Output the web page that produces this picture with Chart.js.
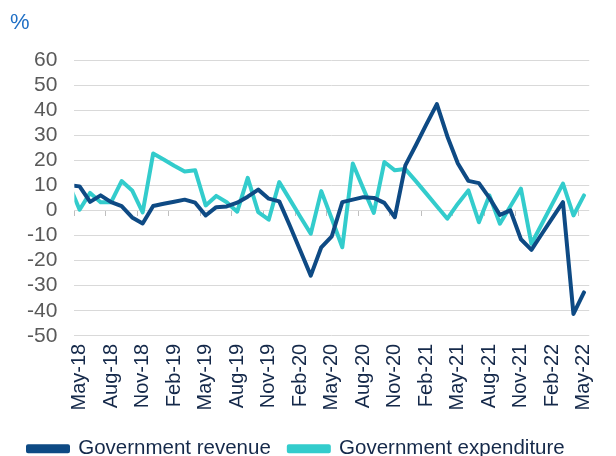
<!DOCTYPE html>
<html>
<head>
<meta charset="utf-8">
<script src="https://cdn.jsdelivr.net/npm/chart.js@4.4.1/dist/chart.umd.min.js"></script>
<style>
  html, body { margin: 0; padding: 0; background: #ffffff; }
  #wrap { width: 616px; height: 456px; position: relative; }
</style>
</head>
<body>
<div id="wrap"><canvas id="c"></canvas></div>
<script>
// Month labels (Apr-18 is only visible as the clipped line stub at the left edge)
const months = ['Apr-18',
  'May-18','Jun-18','Jul-18','Aug-18','Sep-18','Oct-18','Nov-18','Dec-18',
  'Jan-19','Feb-19','Mar-19','Apr-19','May-19','Jun-19','Jul-19','Aug-19','Sep-19','Oct-19','Nov-19','Dec-19',
  'Jan-20','Feb-20','Mar-20','Apr-20','May-20','Jun-20','Jul-20','Aug-20','Sep-20','Oct-20','Nov-20','Dec-20',
  'Jan-21','Feb-21','Mar-21','Apr-21','May-21','Jun-21','Jul-21','Aug-21','Sep-21','Oct-21','Nov-21','Dec-21',
  'Jan-22','Feb-22','Mar-22','Apr-22','May-22'];

const revenue = [10,
  9.6, 3.4, 6, 3.3, 1.7, -2.8, -5.2, 1.8,
  2.7, 3.5, 4.3, 3.1, -2, 1.3, 1.6, 3.1, 5.5, 8.3, 4.7, 3.6,
  -6, -16, -26, -14.7, -10.3, 3.3, 4.3, 5.3, 5, 3, -2.7, 18,
  26, 34.3, 42.4, 29.5, 18.7, 11.8, 10.9, 5, -1.8, 0, -11.5, -15.7,
  -9.3, -3, 3.3, -41.3, -32.7];

const expenditure = [10.3,
  0.3, 7, 3.3, 3.3, 11.7, 8, -0.8, 22.7,
  20.3, 17.8, 15.5, 16, 2, 5.8, 3.3, -0.5, 13, -0.7, -3.7, 11.3,
  4.4, -2.5, -9.3, 7.7, -3.3, -14.7, 18.7, 8.7, -1, 19.3, 16, 16.5,
  11.7, 6.7, 1.7, -3.3, 2.7, 8, -4.7, 6, -5.3, 1.7, 8.7, -13.3,
  -5.3, 2.7, 10.7, -2, 6];

const seriesNames = ['Government revenue', 'Government expenditure'];
const firstShown = 'May-18';

const navy = '#0e4a84';
const teal = '#33cccc';
const gridColor = '#d9d9d9';
const font = "'Liberation Sans', Arial, sans-serif";

new Chart(document.getElementById('c'), {
  type: 'line',
  data: {
    labels: months,
    datasets: [
      { label: seriesNames[0], data: revenue, borderColor: navy, backgroundColor: navy,
        borderWidth: 4, pointRadius: 0, tension: 0, borderCapStyle: 'round', borderJoinStyle: 'round' },
      { label: seriesNames[1], data: expenditure, borderColor: teal, backgroundColor: teal,
        borderWidth: 4, pointRadius: 0, tension: 0, borderCapStyle: 'round', borderJoinStyle: 'round' }
    ]
  },
  options: {
    responsive: true,
    maintainAspectRatio: false,
    animation: false,
    layout: { padding: { left: 10, right: 3, top: 0, bottom: -13 } },
    scales: {
      x: {
        type: 'category',
        min: firstShown,
        offset: true,
        grid: { display: false, drawTicks: false },
        border: { display: false },
        afterFit: (scale) => { scale.height += 2; },
        ticks: {
          autoSkip: false,
          maxRotation: 90,
          minRotation: 90,
          padding: 8,
          color: '#15294a',
          font: { family: font, size: 20 },
          callback: function (value, index) {
            return index % 3 === 0 ? this.getLabelForValue(value) : '';
          }
        }
      },
      x2: {
        type: 'category',
        min: firstShown,
        offset: true,
        position: { y: 0 },
        ticks: { display: false, autoSkip: false },
        border: { display: false },
        grid: {
          offset: true,
          drawOnChartArea: false,
          drawTicks: true,
          tickLength: 6,
          lineWidth: 1,
          color: (ctx) => (ctx.index !== undefined && ctx.index % 3 === 0) ? '#bfbfbf' : 'rgba(0,0,0,0)'
        }
      },
      y: {
        min: -50,
        max: 60,
        grid: { color: gridColor, lineWidth: 1, drawTicks: false },
        border: { display: false },
        ticks: {
          stepSize: 10,
          autoSkip: false,
          padding: 17,
          color: '#595959',
          font: { family: font, size: 21 }
        }
      }
    },
    plugins: {
      title: {
        display: true,
        text: '%',
        align: 'start',
        color: '#1f6fc5',
        font: { family: font, size: 22, weight: 'normal' },
        padding: { top: 10, bottom: 23.6 }
      },
      legend: {
        position: 'bottom',
        align: 'start',
        labels: {
          boxWidth: 40,
          boxHeight: 5,
          padding: 18,
          color: '#15294a',
          font: { family: font, size: 20.5 }
        }
      },
      tooltip: { enabled: false }
    }
  }
});
</script>
</body>
</html>
